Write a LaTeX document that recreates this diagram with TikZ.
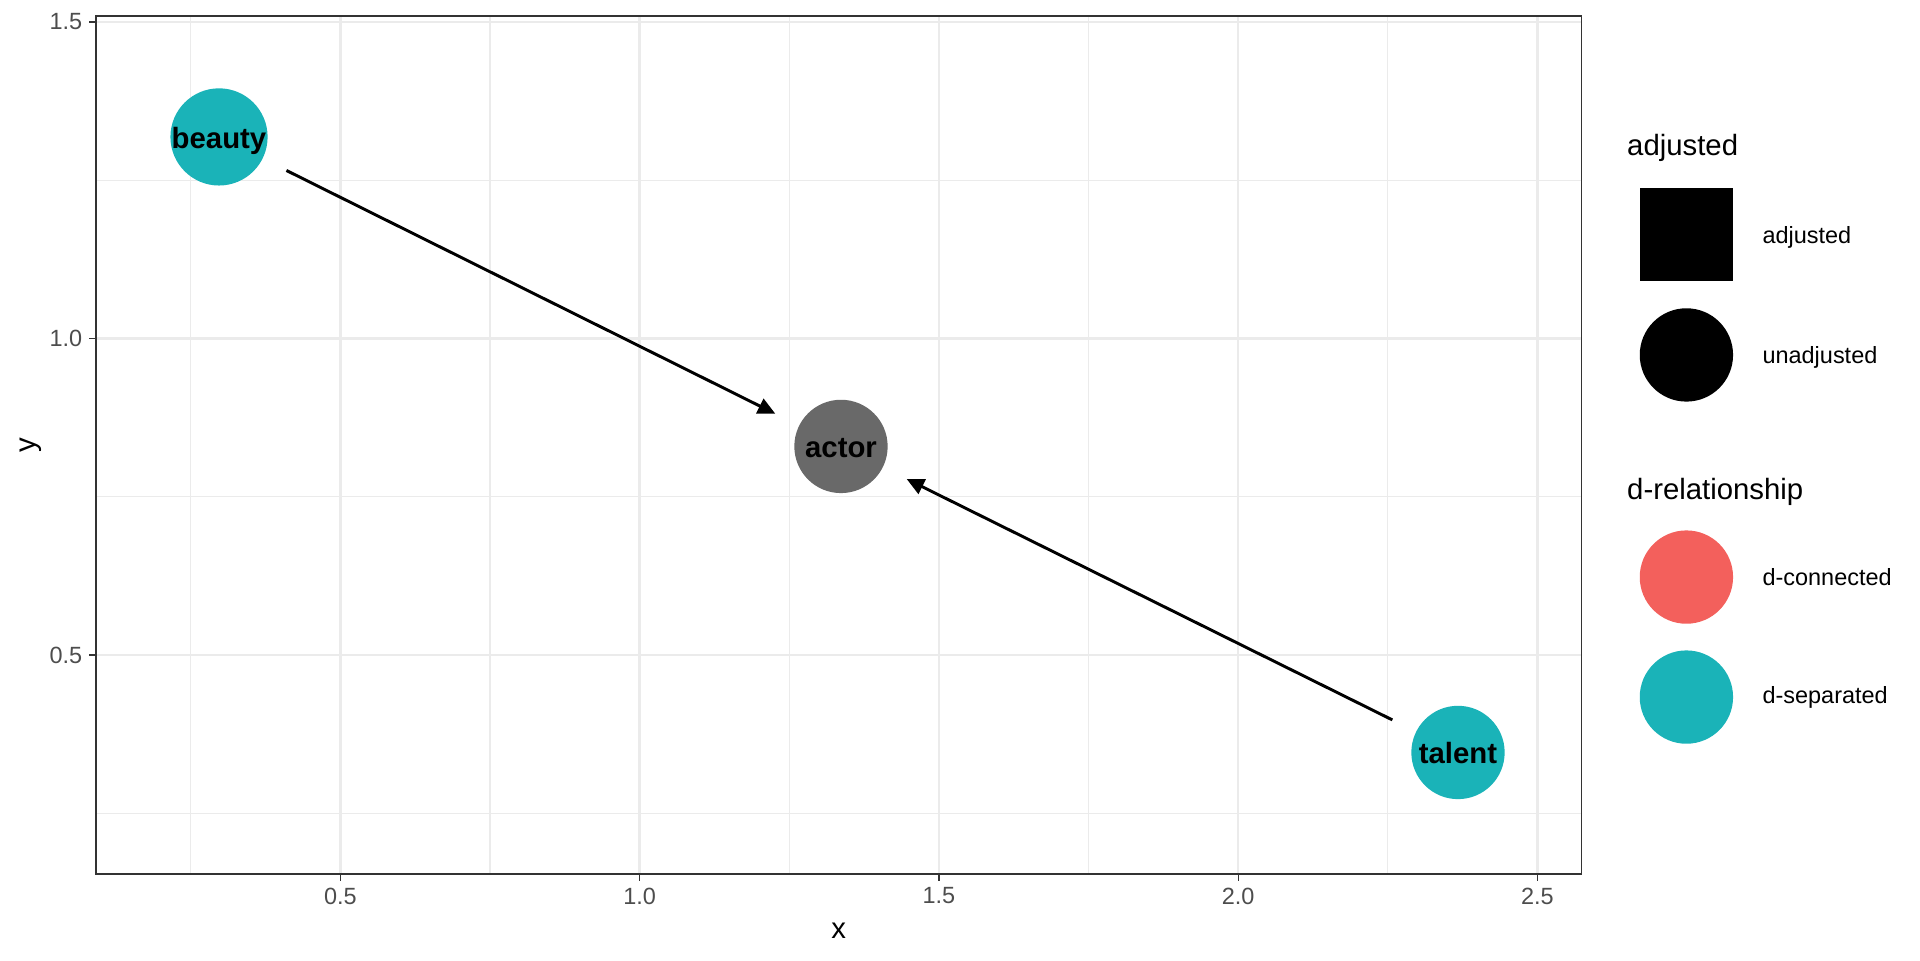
\documentclass[tikz,border=0pt]{standalone}
\usepackage{fontspec}
\setmainfont{Liberation Sans}
\usetikzlibrary{arrows.meta,positioning}
\definecolor{dsep}{HTML}{1AB3B8}
\definecolor{dcon}{HTML}{F3605C}
\definecolor{unadj}{HTML}{696969}
\definecolor{gridgray}{HTML}{EBEBEB}
\definecolor{axisgray}{HTML}{333333}
\definecolor{ticktext}{HTML}{4D4D4D}

\begin{document}
\begin{tikzpicture}[var/.style={circle,minimum size=35pt,inner sep=0pt,outer sep=0pt,text height=8.5pt,text depth=0pt,font=\fontsize{11}{13}\selectfont\bfseries},edge/.style={-{Triangle[length=6.5pt,width=6pt]},line width=1.1pt,shorten <=10pt,shorten >=10pt},ticklab/.style={font=\fontsize{8.8}{10}\selectfont,text=ticktext,inner sep=0pt},legtitle/.style={font=\fontsize{11}{13}\selectfont,anchor=west,inner sep=0pt},leglab/.style={font=\fontsize{8.8}{10}\selectfont,anchor=west,inner sep=0pt},key/.style={minimum size=35pt,inner sep=0pt,outer sep=0pt}]
\useasboundingbox (0,0) rectangle (720pt,360pt);
\begin{scope}[x=224.44pt,y=237.4pt,shift={(15.43pt,-4.31pt)}]
% grid
\foreach \gx in {0.25,0.75,1.25,1.75,2.25} \draw[gridgray,line width=0.45pt] (\gx,0.154) -- (\gx,1.5095);
\foreach \gy in {0.25,0.75,1.25} \draw[gridgray,line width=0.45pt] (0.0915,\gy) -- (2.5735,\gy);
\foreach \gx in {0.5,1.0,1.5,2.0,2.5} \draw[gridgray,line width=0.9pt] (\gx,0.154) -- (\gx,1.5095);
\foreach \gy in {0.5,1.0,1.5} \draw[gridgray,line width=0.9pt] (0.0915,\gy) -- (2.5735,\gy);
\draw[axisgray,line width=0.5pt] (0.0915,0.154) rectangle (2.5735,1.5095);
% axes
\foreach \tx [count=\k] in {0.5,1.0,1.5,2.0,2.5} {
  \draw[axisgray,line width=0.5pt] (\tx,0.154) -- ++(0,-2.75pt);
  \node[ticklab,anchor=north,yshift=-4.95pt] (xlab\k) at (\tx,0.154) {\tx};
}
\foreach \ty [count=\k] in {0.5,1.0,1.5} {
  \draw[axisgray,line width=0.5pt] (0.0915,\ty) -- ++(-2.75pt,0);
  \node[ticklab,anchor=east,xshift=-4.95pt] (ylab\k) at (0.0915,\ty) {\ty};
}
\node[font=\fontsize{11}{13}\selectfont,inner sep=0pt] (xtitle) at (1.3325,0.064) {x};
\node[font=\fontsize{11}{13}\selectfont,inner sep=0pt,rotate=90] (ytitle) at (-0.017,0.8318) {y};
% dag
\node[var,fill=dsep] (beauty) at (0.2972,1.3183) {beauty};
\node[var,fill=unadj] (actor) at (1.3364,0.8294) {actor};
\node[var,fill=dsep] (talent) at (2.3673,0.346) {talent};
\draw[edge] (beauty) -- (actor);
\draw[edge] (talent) -- (actor);
\end{scope}
% legend
\node[legtitle] (ttladj) at (610pt,304.5pt) {adjusted};
\node[key,fill=black] (keyadj) at (632.4pt,272.1pt) {};
\node[leglab] (labadj) at (660.75pt,271pt) {adjusted};
\node[key,circle,fill=black] (keyunadj) at (632.4pt,226.9pt) {};
\node[leglab] (labunadj) at (660.75pt,226.1pt) {unadjusted};
\node[legtitle] (ttlrel) at (610pt,175.5pt) {d-relationship};
\node[key,circle,fill=dcon] (keycon) at (632.4pt,143.6pt) {};
\node[leglab] (labcon) at (660.75pt,143.6pt) {d-connected};
\node[key,circle,fill=dsep] (keysep) at (632.4pt,98.6pt) {};
\node[leglab] (labsep) at (660.75pt,98.6pt) {d-separated};
\end{tikzpicture}
\end{document}
